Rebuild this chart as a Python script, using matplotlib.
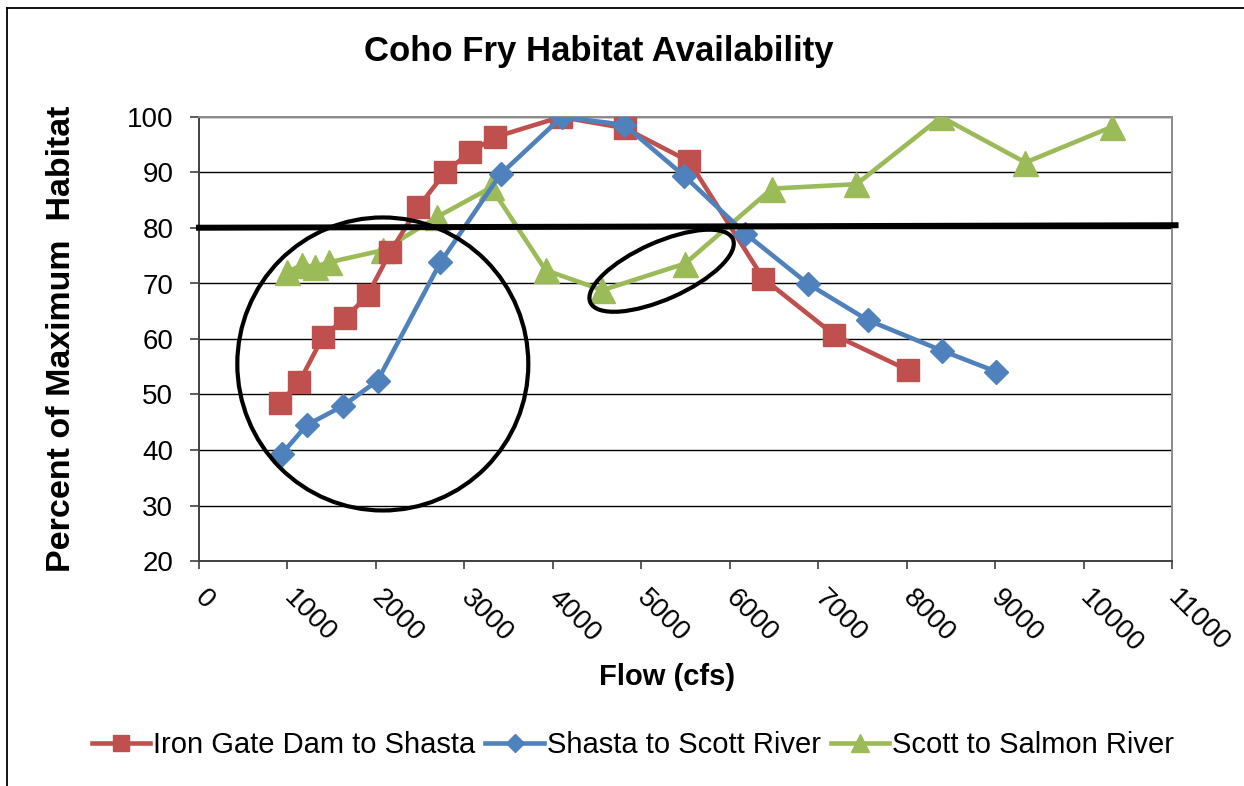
import matplotlib
matplotlib.use("Agg")
import matplotlib.pyplot as plt
from matplotlib.patches import Ellipse
from matplotlib.lines import Line2D
from matplotlib.transforms import ScaledTranslation

plt.rcParams['font.family'] = ['Liberation Sans', 'DejaVu Sans']

# ---- data ----
title = "Coho Fry Habitat Availability"
x_label = "Flow (cfs)"
y_label = "Percent of Maximum  Habitat"

iron_label = "Iron Gate Dam to Shasta"
iron_x = [917, 1136, 1401, 1653, 1906, 2163, 2476, 2786, 3069, 3352, 4088, 4813, 5541, 6379, 7184, 8014]
iron_y = [48.5, 52.3, 60.4, 63.7, 67.9, 75.7, 83.7, 90.1, 93.7, 96.4, 100, 98.0, 92.0, 70.9, 60.7, 54.4]

shasta_label = "Shasta to Scott River"
shasta_x = [936, 1219, 1623, 2019, 2729, 3409, 4100, 4806, 5485, 6176, 6889, 7561, 8400, 9015]
shasta_y = [39.3, 44.5, 47.9, 52.5, 73.8, 89.7, 100, 98.6, 89.4, 79.0, 69.9, 63.4, 57.9, 54.1]

scott_label = "Scott to Salmon River"
scott_x = [1000, 1163, 1314, 1465, 2080, 2692, 3303, 3918, 4560, 5496, 6478, 7433, 8392, 9343, 10317]
scott_y = [72.1, 73.3, 73.0, 73.8, 76.0, 82.0, 87.3, 72.4, 68.8, 73.6, 87.1, 87.9, 100, 91.8, 98.2]

x_ticks = list(range(0, 11001, 1000))
y_ticks = list(range(20, 101, 10))

threshold_x = [0, 11040]
threshold_y = [80.05, 80.5]

# hand-drawn highlight shapes (centre in data units, size in inches)
big_circle_center = (2078, 55.5)
small_ellipse_center = (5230, 72.3)

# ---- figure ----
W, H = 1244, 786
fig = plt.figure(figsize=(W / 100, H / 100), dpi=100)
ax = fig.add_axes([199 / W, (H - 561) / H, (1172 - 199) / W, 444 / H])

red, blue, green = '#C0504D', '#4F81BD', '#9BBB59'

ax.plot(iron_x, iron_y, color=red, lw=3.3, marker='s', ms=15.5, label=iron_label, zorder=4)
ax.plot(shasta_x, shasta_y, color=blue, lw=3.3, marker='D', ms=12.5, label=shasta_label, zorder=5)
ax.plot(scott_x, scott_y, color=green, lw=3.3, marker='^', ms=18, label=scott_label, zorder=3)

ax.plot(threshold_x, threshold_y, color='black', lw=4.3, clip_on=False, zorder=6)

ax.set_xlim(0, 11000)
ax.set_ylim(20, 100)
ax.set_xticks(x_ticks)
ax.set_yticks(y_ticks)
ax.set_xticklabels([str(v) for v in x_ticks], fontsize=20, rotation=-45,
                   ha='left', va='center', rotation_mode='anchor')
ax.set_yticklabels([str(v) for v in y_ticks], fontsize=20)
ax.tick_params(axis='y', length=6.5, width=1.2, pad=12, color='#404040')
ax.tick_params(axis='x', length=5.5, width=1.2, pad=18, color='#404040')

ax.grid(axis='y', color='black', lw=1.0, zorder=1)
ax.set_axisbelow(True)
for s in ['left', 'bottom']:
    ax.spines[s].set_color('#404040')
    ax.spines[s].set_linewidth(1.4)
for s in ['right', 'top']:
    ax.spines[s].set_color('#8c8c8c')
    ax.spines[s].set_linewidth(1.4)

ax.set_xlabel(x_label, fontsize=21, fontweight='bold')
ax.xaxis.set_label_coords((667 - 199) / (1172 - 199), -(677 - 561) / 444, transform=ax.transAxes)
ax.xaxis.label.set_va('center')
ax.set_ylabel(y_label, fontsize=24.5, fontweight='bold')
ax.yaxis.set_label_coords(-(199 - 62) / (1172 - 199), 0.5, transform=ax.transAxes)
ax.yaxis.label.set_va('center')

fig.text(599 / W, 1 - 52 / H, title, fontsize=25, fontweight='bold', ha='center', va='center')

# highlight shapes
t1 = fig.dpi_scale_trans + ScaledTranslation(*big_circle_center, ax.transData)
ax.add_patch(Ellipse((0, 0), 2.91, 2.93, transform=t1, fill=False, ec='black', lw=3, clip_on=False, zorder=7))
t2 = fig.dpi_scale_trans + ScaledTranslation(*small_ellipse_center, ax.transData)
ax.add_patch(Ellipse((0, 0), 1.56, 0.57, angle=24, transform=t2, fill=False, ec='black', lw=3, clip_on=False, zorder=7))

leg = fig.legend(loc='center', bbox_to_anchor=(633 / W, (H - 745) / H), ncol=3, frameon=False,
                 fontsize=21, handlelength=2.0, handletextpad=0.1, columnspacing=0.35,
                 markerscale=0.7)

# chart-area border (left and top)
fig.add_artist(Line2D([7.5 / W, 7.5 / W], [0, 1 - 7.5 / H], color='black', lw=1.3))
fig.add_artist(Line2D([7.5 / W, 1], [1 - 7.5 / H, 1 - 7.5 / H], color='black', lw=1.3))

fig.savefig('out.png', dpi=100)
